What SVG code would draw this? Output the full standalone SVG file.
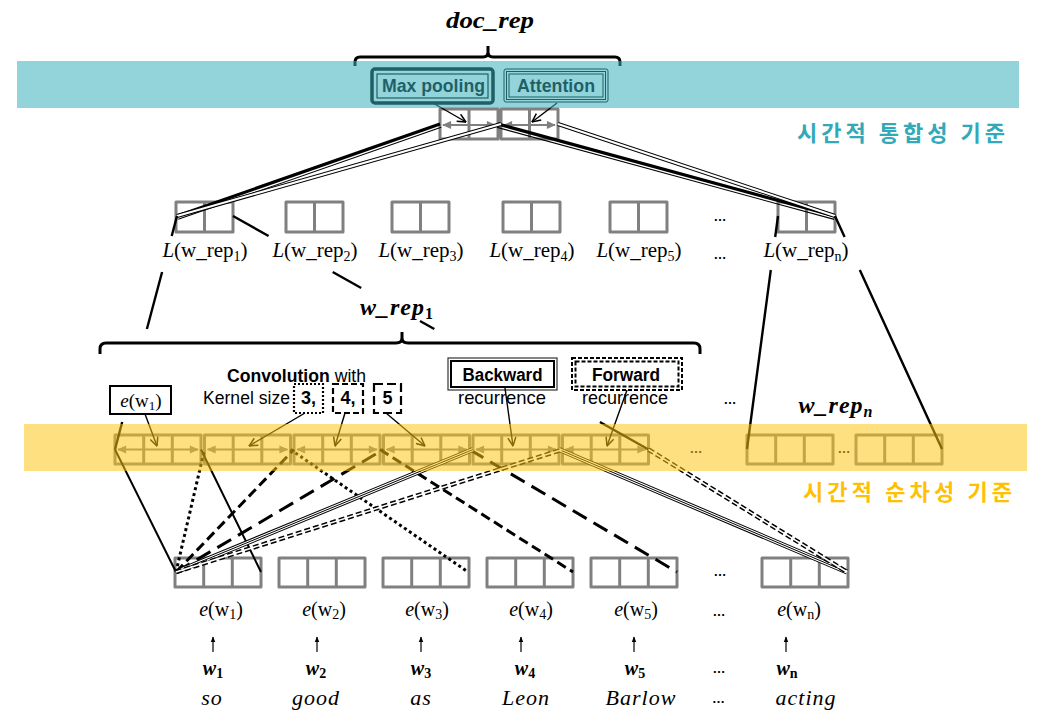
<svg xmlns="http://www.w3.org/2000/svg" width="1042" height="727" viewBox="0 0 1042 727">
<defs>
<style>
.box{fill:none;stroke:#808080;stroke-width:3;stroke-linejoin:round}
.ga{fill:none;stroke:#808080;stroke-width:2.2;marker-start:url(#gh);marker-end:url(#gh)}
.ln{fill:none;stroke:#000;stroke-width:2.4}
.sl{fill:none;stroke:#000;stroke-width:2}
.thk{fill:none;stroke:#000;stroke-width:3.2}
.thn{fill:none;stroke:#000;stroke-width:1.1}
.dbo{fill:none;stroke:#000;stroke-width:4}
.dbi{fill:none;stroke:#fff;stroke-width:2}
.tro{fill:none;stroke:#000;stroke-width:5}
.tri{fill:none;stroke:#fff;stroke-width:3}
.trc{fill:none;stroke:#000;stroke-width:1}
.dot{fill:none;stroke:#000;stroke-width:3;stroke-dasharray:3 3}
.dsh{fill:none;stroke:#000;stroke-width:3;stroke-dasharray:10 5}
.lds{fill:none;stroke:#000;stroke-width:3;stroke-dasharray:16 8}
.fwo{fill:none;stroke:#000;stroke-width:4.5;stroke-dasharray:6 3}
.fwi{fill:none;stroke:#fff;stroke-width:1.5}
.ar{fill:none;stroke:#000;stroke-width:1.4;marker-end:url(#ah)}
.up{fill:none;stroke:#000;stroke-width:1.2;marker-end:url(#uh)}
.sans{font-family:"Liberation Sans",Arial,sans-serif;fill:#000}
.serif{font-family:"Liberation Serif","Times New Roman",serif;fill:#000}
.ko{font-family:"Noto Sans CJK KR",sans-serif;font-weight:bold;font-size:22px}
.dots{font-family:"Liberation Sans",Arial,sans-serif;font-weight:bold;font-size:13px;fill:#000}
</style>
<marker id="gh" viewBox="0 0 10 10" refX="9" refY="5" markerWidth="11" markerHeight="9" markerUnits="userSpaceOnUse" orient="auto-start-reverse"><path d="M0,0.5 L10,5 L0,9.5 z" fill="#808080"/></marker>
<marker id="ah" viewBox="0 0 10 10" refX="9.5" refY="5" markerWidth="10" markerHeight="10" markerUnits="userSpaceOnUse" orient="auto"><path d="M1,1 L9.5,5 L1,9" fill="none" stroke="#000" stroke-width="1.5"/></marker>
<marker id="uh" viewBox="0 0 10 10" refX="9" refY="5" markerWidth="6" markerHeight="6" markerUnits="userSpaceOnUse" orient="auto"><path d="M0,1 L10,5 L0,9 z" fill="#000"/></marker>
</defs>
<rect width="1042" height="727" fill="#fff"/>

<!-- top: doc_rep -->
<g id="doc_rep">
<text x="490" y="28" text-anchor="middle" class="serif" font-size="24" font-weight="bold" font-style="italic" textLength="88" lengthAdjust="spacingAndGlyphs">doc_rep</text>
<path d="M355,66 L355,62 Q355,57 360,57 L483,57 Q488,57 488,52 L488,46 M488,52 Q488,57 493,57 L615,57 Q620,57 620,62 L620,66" fill="none" stroke="#000" stroke-width="3"/>
</g>
<g id="max_pooling">
<rect x="372" y="69" width="121" height="34" rx="3" fill="none" stroke="#000" stroke-width="3.5"/>
<rect x="377" y="74" width="111" height="24" fill="none" stroke="#000" stroke-width="1.2"/>
<text x="433.5" y="92" text-anchor="middle" class="sans" font-size="18.5" font-weight="bold" textLength="103" lengthAdjust="spacingAndGlyphs">Max pooling</text>
</g>
<g id="attention">
<rect x="504" y="69" width="104" height="33" rx="2" fill="none" stroke="#000" stroke-width="1"/>
<rect x="506.5" y="71.5" width="99" height="28" fill="none" stroke="#000" stroke-width="1"/>
<rect x="509" y="74" width="94" height="23" fill="none" stroke="#000" stroke-width="1"/>
<text x="556" y="92" text-anchor="middle" class="sans" font-size="18.5" font-weight="bold" textLength="78" lengthAdjust="spacingAndGlyphs">Attention</text>
</g>
<g id="doc_cells">
<path class="box" d="M440,109h58v30h-58z M469,109v30 M501,109h57v30h-57z M529.5,109v30"/>
<path class="ga" d="M443,125 H495"/>
<path class="ga" d="M504,125 H555"/>
</g>

<!-- L boxes -->
<g id="L_boxes">
<path class="box" d="M176,202h57v30h-57z M204.5,202v30"/>
<path class="box" d="M286,202h57v30h-57z M314.5,202v30"/>
<path class="box" d="M392,202h57v30h-57z M420.5,202v30"/>
<path class="box" d="M503,202h57v30h-57z M531.5,202v30"/>
<path class="box" d="M610,202h57v30h-57z M638.5,202v30"/>
<path class="box" d="M778,202h57v30h-57z M806.5,202v30"/>
<text x="720" y="221" text-anchor="middle" class="dots">…</text>
</g>
<g id="L_labels" class="serif" font-size="21">
<text x="205" y="257" text-anchor="middle"><tspan font-style="italic">L</tspan>(w_rep<tspan font-size="14" dy="4">1</tspan><tspan dy="-4">)</tspan></text>
<text x="315" y="257" text-anchor="middle"><tspan font-style="italic">L</tspan>(w_rep<tspan font-size="14" dy="4">2</tspan><tspan dy="-4">)</tspan></text>
<text x="421" y="257" text-anchor="middle"><tspan font-style="italic">L</tspan>(w_rep<tspan font-size="14" dy="4">3</tspan><tspan dy="-4">)</tspan></text>
<text x="532" y="257" text-anchor="middle"><tspan font-style="italic">L</tspan>(w_rep<tspan font-size="14" dy="4">4</tspan><tspan dy="-4">)</tspan></text>
<text x="639" y="257" text-anchor="middle"><tspan font-style="italic">L</tspan>(w_rep<tspan font-size="14" dy="4">5</tspan><tspan dy="-4">)</tspan></text>
<text x="806" y="257" text-anchor="middle"><tspan font-style="italic">L</tspan>(w_rep<tspan font-size="14" dy="4">n</tspan><tspan dy="-4">)</tspan></text>
<text x="720" y="259" text-anchor="middle" class="dots">…</text>
</g>

<!-- w_rep_1 region -->
<g id="w_rep_1">
<text x="397" y="315" text-anchor="middle" class="serif" font-size="24" font-weight="bold" font-style="italic" letter-spacing="1">w_rep<tspan font-size="16" font-style="normal" dy="4">1</tspan></text>
<path d="M100,354 L100,349 Q100,343 106,343 L396,343 Q402,343 402,338 L402,332 M402,338 Q402,343 408,343 L694,343 Q700,343 700,349 L700,354" fill="none" stroke="#000" stroke-width="3"/>
</g>
<g id="e_w1_box">
<rect x="110" y="386" width="61" height="28" fill="#fff" stroke="#000" stroke-width="2"/>
<text x="141" y="407" text-anchor="middle" class="serif" font-size="19"><tspan font-style="italic">e</tspan>(w<tspan font-size="13" dy="3">1</tspan><tspan dy="-3">)</tspan></text>
</g>
<g id="convolution">
<text x="227" y="382" class="sans" font-size="17.5" textLength="139" lengthAdjust="spacingAndGlyphs"><tspan font-weight="bold">Convolution</tspan> with</text>
<text x="203" y="404" class="sans" font-size="18" textLength="87" lengthAdjust="spacingAndGlyphs">Kernel size</text>
<rect x="294" y="384" width="29" height="29" fill="none" stroke="#000" stroke-width="2.2" stroke-dasharray="2 2"/>
<text x="308.5" y="404" text-anchor="middle" class="sans" font-size="18" font-weight="bold">3,</text>
<rect x="333" y="384" width="30" height="29" fill="none" stroke="#000" stroke-width="2.2" stroke-dasharray="6 3"/>
<text x="348" y="404" text-anchor="middle" class="sans" font-size="18" font-weight="bold">4,</text>
<rect x="374" y="384" width="27" height="29" fill="none" stroke="#000" stroke-width="2.2" stroke-dasharray="9 4"/>
<text x="387.5" y="404" text-anchor="middle" class="sans" font-size="18" font-weight="bold">5</text>
</g>
<g id="backward">
<rect x="448" y="358" width="109" height="32" fill="none" stroke="#333" stroke-width="1.2"/>
<rect x="451" y="361" width="103" height="26" fill="none" stroke="#000" stroke-width="2"/>
<text x="502.5" y="381" text-anchor="middle" class="sans" font-size="18" font-weight="bold" textLength="80" lengthAdjust="spacingAndGlyphs">Backward</text>
<text x="502" y="404" text-anchor="middle" class="sans" font-size="18.5" textLength="88" lengthAdjust="spacingAndGlyphs">recurrence</text>
</g>
<g id="forward">
<rect x="572" y="358" width="110" height="32" fill="none" stroke="#000" stroke-width="2" stroke-dasharray="4 2"/>
<rect x="575.5" y="361.5" width="103" height="25" fill="none" stroke="#000" stroke-width="2" stroke-dasharray="4 2"/>
<text x="626" y="381" text-anchor="middle" class="sans" font-size="18" font-weight="bold" textLength="68" lengthAdjust="spacingAndGlyphs">Forward</text>
<text x="625" y="404" text-anchor="middle" class="sans" font-size="18.5" textLength="86" lengthAdjust="spacingAndGlyphs">recurrence</text>
</g>
<g id="w_rep_n">
<text x="730" y="404" text-anchor="middle" class="dots">…</text>
<text x="836" y="413" text-anchor="middle" class="serif" font-size="24" font-weight="bold" font-style="italic" letter-spacing="1">w_rep<tspan font-size="16" dy="4">n</tspan></text>
</g>

<!-- yellow row cells -->
<g id="w_rep_cells">
<path class="box" d="M115,435h86v29h-86z M143.7,435v29 M172.3,435v29"/>
<path class="box" d="M204.5,435h86v29h-86z M233.2,435v29 M261.8,435v29"/>
<path class="box" d="M294,435h86v29h-86z M322.7,435v29 M351.3,435v29"/>
<path class="box" d="M383.5,435h86v29h-86z M412.2,435v29 M440.8,435v29"/>
<path class="box" d="M473,435h86v29h-86z M501.7,435v29 M530.3,435v29"/>
<path class="box" d="M562.5,435h86v29h-86z M591.2,435v29 M619.8,435v29"/>
<path class="ga" d="M118,449.5 H198"/>
<path class="ga" d="M207.5,449.5 H287.5"/>
<path class="ga" d="M297,449.5 H377"/>
<path class="ga" d="M386.5,449.5 H466.5"/>
<path class="ga" d="M476,449.5 H556"/>
<path class="ga" d="M565.5,449.5 H645.5"/>
<text x="696" y="453" text-anchor="middle" class="dots">…</text>
<path class="box" d="M747,435h86v29h-86z M775.7,435v29 M804.3,435v29"/>
<text x="844" y="453" text-anchor="middle" class="dots">…</text>
<path class="box" d="M856,435h86v29h-86z M884.7,435v29 M913.3,435v29"/>
</g>

<!-- bottom embedding cells -->
<g id="e_cells">
<path class="box" d="M175,558h86v29h-86z M203.7,558v29 M232.3,558v29"/>
<path class="box" d="M279,558h86v29h-86z M307.7,558v29 M336.3,558v29"/>
<path class="box" d="M383,558h86v29h-86z M411.7,558v29 M440.3,558v29"/>
<path class="box" d="M487,558h86v29h-86z M515.7,558v29 M544.3,558v29"/>
<path class="box" d="M591,558h86v29h-86z M619.7,558v29 M648.3,558v29"/>
<text x="720" y="576" text-anchor="middle" class="dots">…</text>
<path class="box" d="M762,558h86v29h-86z M790.7,558v29 M819.3,558v29"/>
</g>

<!-- connectors -->
<g id="connectors">
<path class="thk" d="M440,124 L177,216 M498,124 L835,216"/>
<path class="thn" d="M441.2,127.3 L178.2,219.3 M497.1,127.4 L834.1,219.4"/>
<path class="dbo" d="M501,124 L177,216 M558,124 L835,216"/>
<path class="dbi" d="M501,124 L177,216 M558,124 L835,216"/>
<path class="ln" d="M177,216 L171.7,236 M162.1,272 L146.9,329 M122.2,422 L115,449.5"/>
<path class="ln" d="M233,216 L268.6,236 M332.7,272 L361.2,288 M420,321 L434.3,329 M599.9,422 L648.5,449.5"/>
<path class="ln" d="M778,216 L775.2,237 M770.8,270 L747,449"/>
<path class="ln" d="M835,216 L844.6,237 M859.8,270 L942,449"/>
<path class="ar" d="M433,103 L466,122"/>
<path class="ar" d="M557,103 L532,122"/>
<path class="ar" d="M145,414 L157,446"/>
<path class="ar" d="M305,413 L249,446"/>
<path class="ar" d="M345,413 L335,446"/>
<path class="ar" d="M386,413 L425,446"/>
<path class="ar" d="M505,388 L513,446"/>
<path class="ar" d="M627,390 L607,446"/>
<path class="sl" d="M176,572 L115,449.5 M201,449.5 L261,572"/>
<path class="dot" d="M176,572 L204.5,449.5 M290.5,449.5 L468,572"/>
<path class="dsh" d="M176,572 L294,449.5 M380,449.5 L573,572"/>
<path class="lds" d="M176,572 L383.5,449.5 M469.5,449.5 L677,572"/>
<path class="tro" d="M176,572 L473,449.5 M559,449.5 L847,572"/>
<path class="tri" d="M176,572 L473,449.5 M559,449.5 L847,572"/>
<path class="trc" d="M176,572 L473,449.5 M559,449.5 L847,572"/>
<path class="fwo" d="M176,572 L562.5,449.5 M648.5,449.5 L847,572"/>
<path class="fwi" d="M176,572 L562.5,449.5 M648.5,449.5 L847,572"/>
<path class="up" d="M213,652 V637"/>
<path class="up" d="M317,652 V637"/>
<path class="up" d="M421,652 V637"/>
<path class="up" d="M521,652 V637"/>
<path class="up" d="M634,652 V637"/>
<path class="up" d="M786,652 V637"/>
</g>

<!-- bands -->
<rect id="band_teal" x="17" y="61" width="1002" height="47" fill="#39AEBB" fill-opacity="0.545"/>
<rect id="band_yellow" x="24" y="424" width="1003" height="47" fill="#FFC512" fill-opacity="0.535"/>
<text x="797" y="141" class="ko" fill="#31A9B8" textLength="208" lengthAdjust="spacing">시간적 통합성 기준</text>
<text x="803" y="500" class="ko" fill="#FFC000" textLength="209" lengthAdjust="spacing">시간적 순차성 기준</text>

<!-- bottom labels -->
<g id="e_labels" class="serif" font-size="20">
<text x="221" y="616" text-anchor="middle"><tspan font-style="italic">e</tspan>(w<tspan font-size="14" dy="3">1</tspan><tspan dy="-3">)</tspan></text>
<text x="324" y="616" text-anchor="middle"><tspan font-style="italic">e</tspan>(w<tspan font-size="14" dy="3">2</tspan><tspan dy="-3">)</tspan></text>
<text x="427" y="616" text-anchor="middle"><tspan font-style="italic">e</tspan>(w<tspan font-size="14" dy="3">3</tspan><tspan dy="-3">)</tspan></text>
<text x="531" y="616" text-anchor="middle"><tspan font-style="italic">e</tspan>(w<tspan font-size="14" dy="3">4</tspan><tspan dy="-3">)</tspan></text>
<text x="636" y="616" text-anchor="middle"><tspan font-style="italic">e</tspan>(w<tspan font-size="14" dy="3">5</tspan><tspan dy="-3">)</tspan></text>
<text x="799" y="616" text-anchor="middle"><tspan font-style="italic">e</tspan>(w<tspan font-size="14" dy="3">n</tspan><tspan dy="-3">)</tspan></text>
<text x="719" y="616" text-anchor="middle" class="dots">…</text>
</g>
<g id="w_labels" class="serif" font-size="20" font-weight="bold">
<text x="213" y="675" text-anchor="middle"><tspan font-style="italic">w</tspan><tspan font-size="14" dy="3">1</tspan></text>
<text x="316" y="675" text-anchor="middle"><tspan font-style="italic">w</tspan><tspan font-size="14" dy="3">2</tspan></text>
<text x="421" y="675" text-anchor="middle"><tspan font-style="italic">w</tspan><tspan font-size="14" dy="3">3</tspan></text>
<text x="525" y="675" text-anchor="middle"><tspan font-style="italic">w</tspan><tspan font-size="14" dy="3">4</tspan></text>
<text x="635" y="675" text-anchor="middle"><tspan font-style="italic">w</tspan><tspan font-size="14" dy="3">5</tspan></text>
<text x="787" y="675" text-anchor="middle"><tspan font-style="italic">w</tspan><tspan font-size="14" dy="3">n</tspan></text>
<text x="719" y="673" text-anchor="middle" class="dots">…</text>
</g>
<g id="words" class="serif" font-size="22" font-style="italic" letter-spacing="1">
<text x="212" y="705" text-anchor="middle">so</text>
<text x="316" y="705" text-anchor="middle">good</text>
<text x="421" y="705" text-anchor="middle">as</text>
<text x="526" y="705" text-anchor="middle">Leon</text>
<text x="641" y="705" text-anchor="middle">Barlow</text>
<text x="806" y="705" text-anchor="middle">acting</text>
<text x="719" y="703" text-anchor="middle" class="dots" font-style="normal">…</text>
</g>
</svg>
